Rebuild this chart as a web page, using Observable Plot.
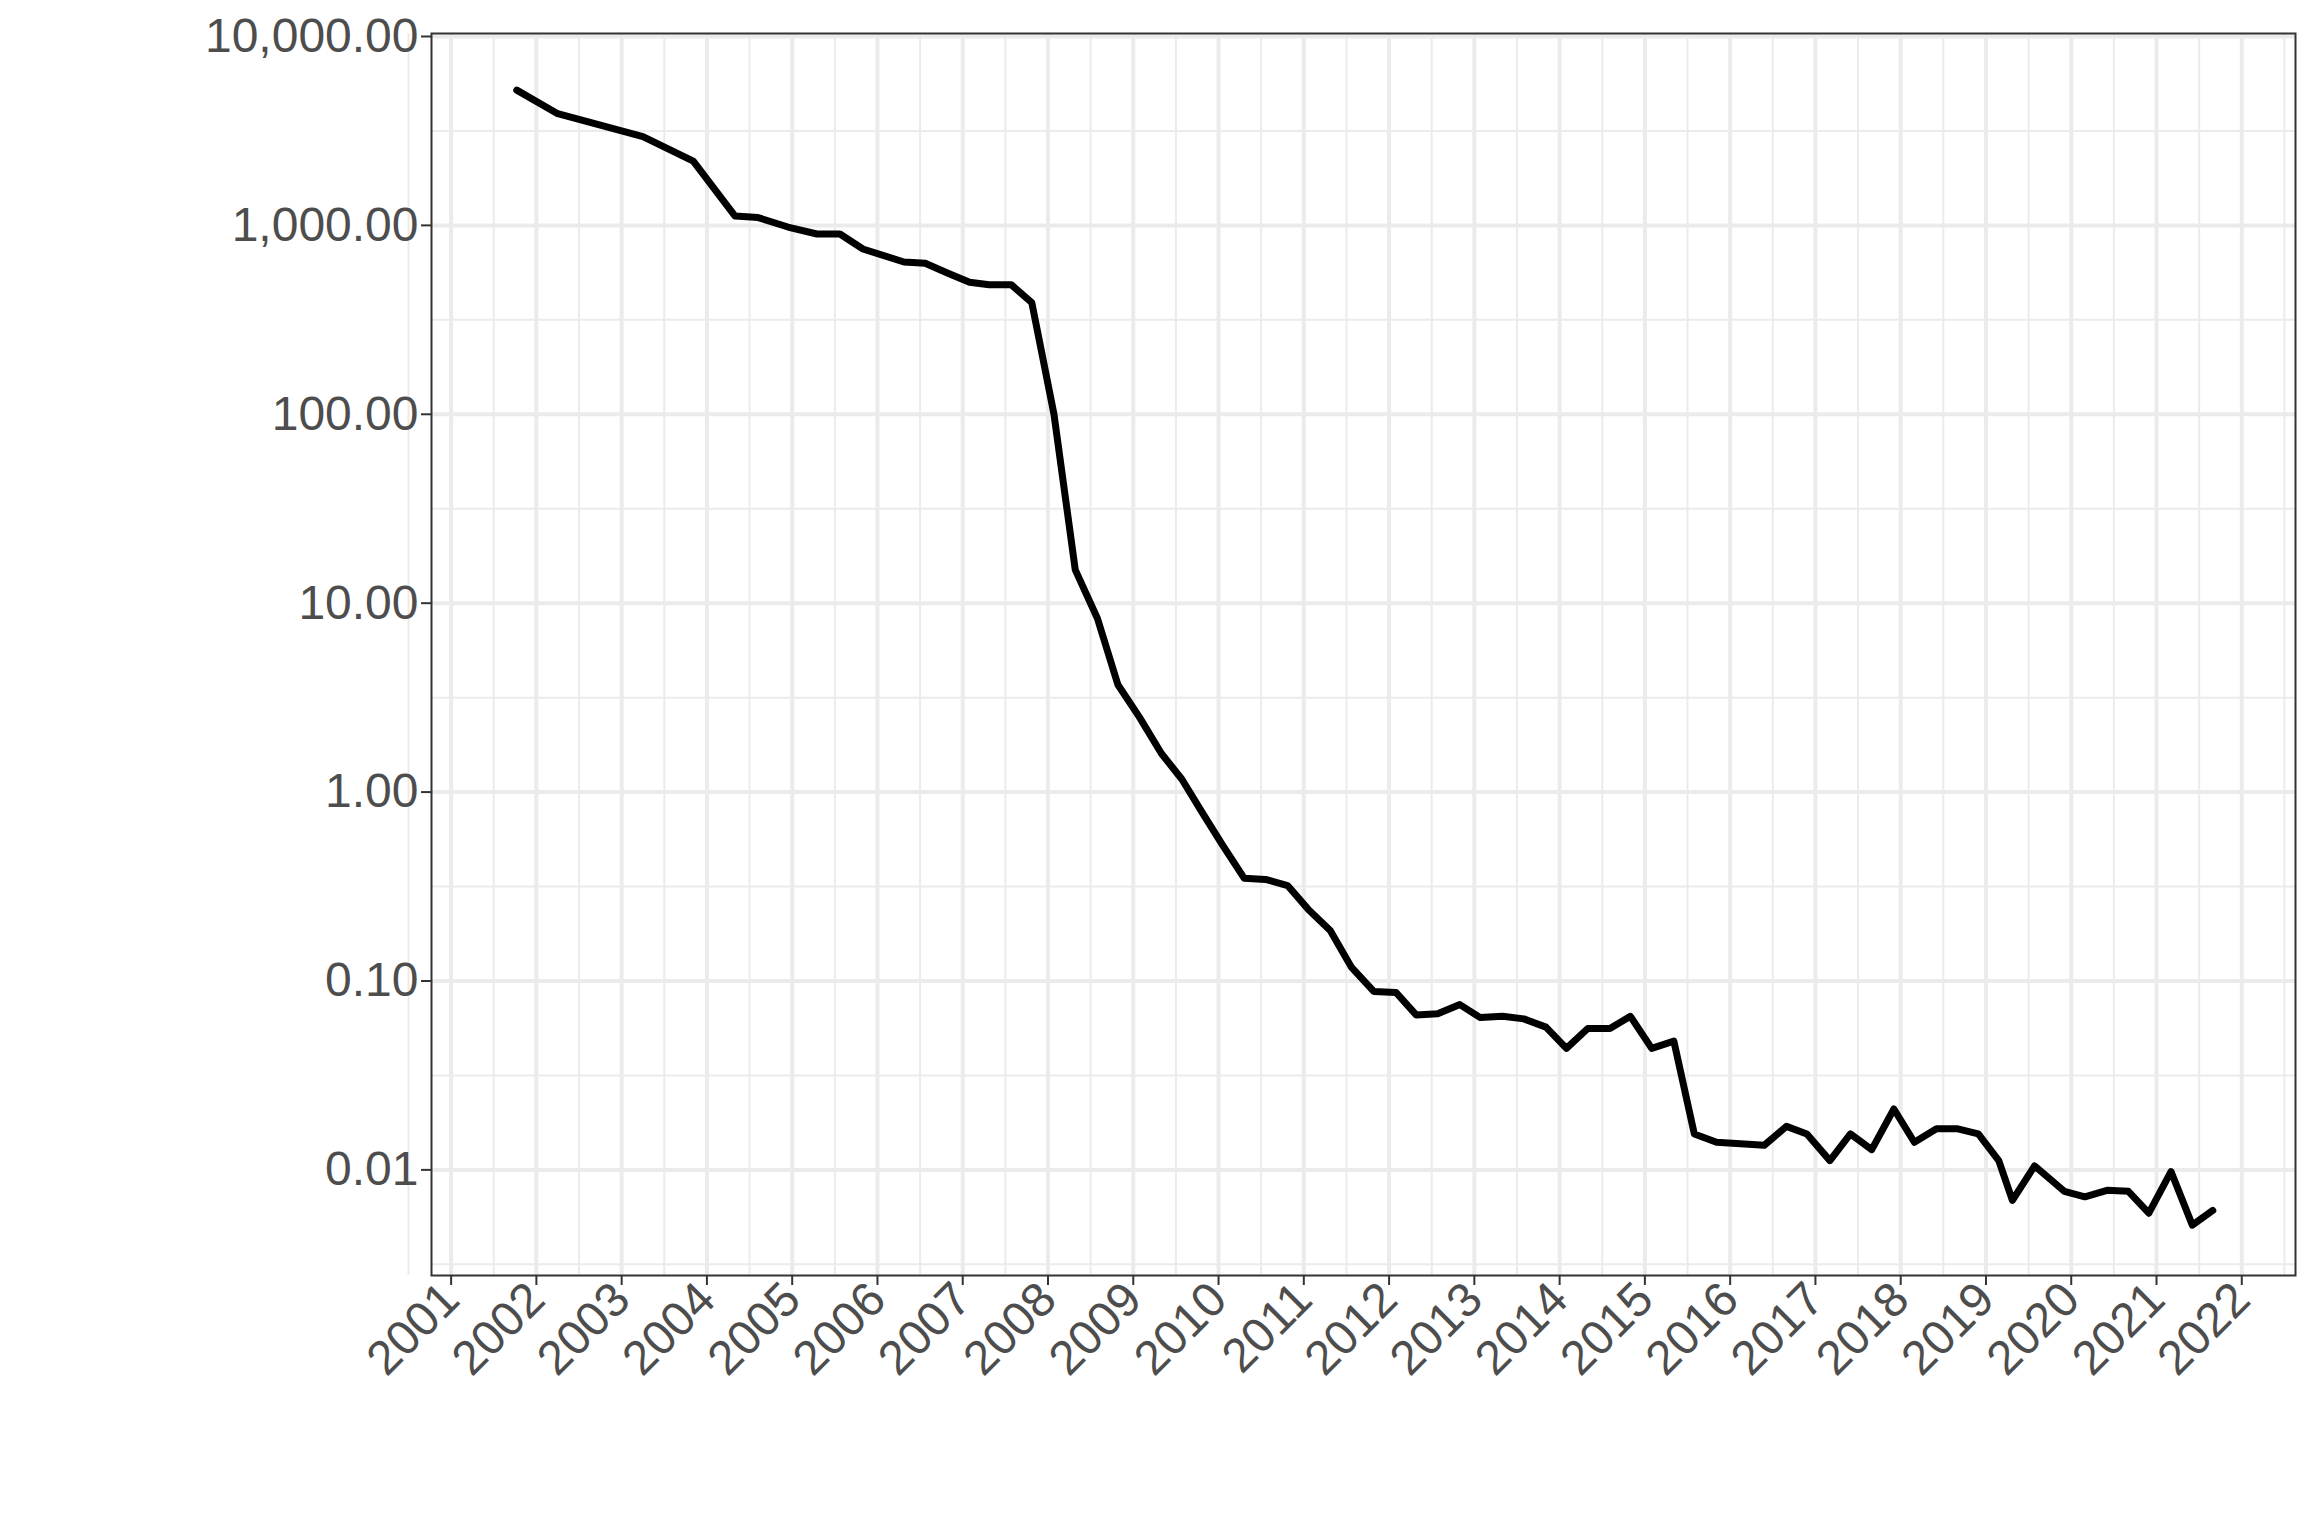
<!DOCTYPE html>
<html>
<head>
<meta charset="utf-8">
<script src="https://cdn.jsdelivr.net/npm/d3@7"></script>
<script src="https://cdn.jsdelivr.net/npm/@observablehq/plot@0.6"></script>
<style>
  body { margin: 0; background: #fff; }
</style>
</head>
<body>
<div id="chart"></div>
<script>
const years = [2001.77, 2002.25, 2003.25, 2003.84, 2004.33, 2004.6, 2004.95, 2005.29, 2005.56, 2005.83,
  2006.31, 2006.56, 2006.82, 2007.08, 2007.31, 2007.57, 2007.81, 2008.07, 2008.32, 2008.58,
  2008.82, 2009.07, 2009.33, 2009.57, 2009.8, 2010.04, 2010.3, 2010.55, 2010.81, 2011.05,
  2011.31, 2011.56, 2011.82, 2012.08, 2012.32, 2012.57, 2012.83, 2013.07, 2013.33, 2013.58,
  2013.84, 2014.08, 2014.33, 2014.59, 2014.83, 2015.08, 2015.34, 2015.58, 2015.84, 2016.4,
  2016.66, 2016.9, 2017.17, 2017.41, 2017.66, 2017.92, 2018.16, 2018.42, 2018.67, 2018.91,
  2019.15, 2019.31, 2019.57, 2019.92, 2020.16, 2020.42, 2020.67, 2020.91, 2021.17, 2021.42,
  2021.66];
const values = [5200, 3900, 2950, 2190, 1120, 1100, 980, 900, 900, 750,
  640, 630, 560, 500, 485, 485, 390, 100, 15, 8.3,
  3.7, 2.5, 1.6, 1.17, 0.79, 0.53, 0.35, 0.345, 0.32, 0.24,
  0.185, 0.118, 0.088, 0.087, 0.066, 0.067, 0.075, 0.064, 0.065, 0.063,
  0.057, 0.044, 0.056, 0.056, 0.065, 0.044, 0.048, 0.0155, 0.014, 0.0135,
  0.017, 0.0155, 0.0112, 0.0155, 0.0128, 0.021, 0.014, 0.0165, 0.0165, 0.0155,
  0.0112, 0.0069, 0.0105, 0.0077, 0.0072, 0.0078, 0.0077, 0.0059, 0.0098, 0.0051,
  0.0061];
const yTicks = [0.01, 0.1, 1, 10, 100, 1000, 10000];
const xTicks = d3.range(2001, 2023);

const data = years.map((t, i) => ({t, v: values[i]}));
const yMinor = yTicks.slice(0, -1).map((d) => d * Math.sqrt(10)).concat([0.01 / Math.sqrt(10)]);
const xMinor = d3.range(2000.5, 2023, 1);

const plot = Plot.plot({
  width: 2304,
  height: 1536,
  marginLeft: 431,
  marginRight: 9,
  marginTop: 33,
  marginBottom: 261,
  style: {fontFamily: "Liberation Sans, Arial, sans-serif", fontSize: "48px", color: "#4d4d4d", background: "#fff"},
  x: {domain: [2000.77, 2022.63], ticks: xTicks, tickFormat: "d", tickRotate: -45, tickSize: 10, tickPadding: 4, label: null},
  y: {type: "log", domain: [0.00276, 10370], ticks: yTicks, tickFormat: d3.format(",.2f"), tickSize: 10, tickPadding: 6, label: null},
  marks: [
    Plot.ruleY(yMinor, {stroke: "#ebebeb", strokeWidth: 2}),
    Plot.ruleX(xMinor, {stroke: "#ebebeb", strokeWidth: 2}),
    Plot.ruleY(yTicks, {stroke: "#ebebeb", strokeWidth: 4}),
    Plot.ruleX(xTicks, {stroke: "#ebebeb", strokeWidth: 4}),
    Plot.line(data, {x: "t", y: "v", stroke: "black", strokeWidth: 7, strokeLinejoin: "round"}),
    Plot.frame({stroke: "#333", strokeWidth: 2}),
    Plot.axisX({ticks: xTicks, tickFormat: "d", tickRotate: -45, tickSize: 10, stroke: "#333", strokeWidth: 2, fill: "#4d4d4d"}),
    Plot.axisY({ticks: yTicks, tickFormat: d3.format(",.2f"), tickSize: 10, stroke: "#333", strokeWidth: 2, fill: "#4d4d4d"})
  ]
});
document.getElementById("chart").appendChild(plot);
</script>
</body>
</html>
